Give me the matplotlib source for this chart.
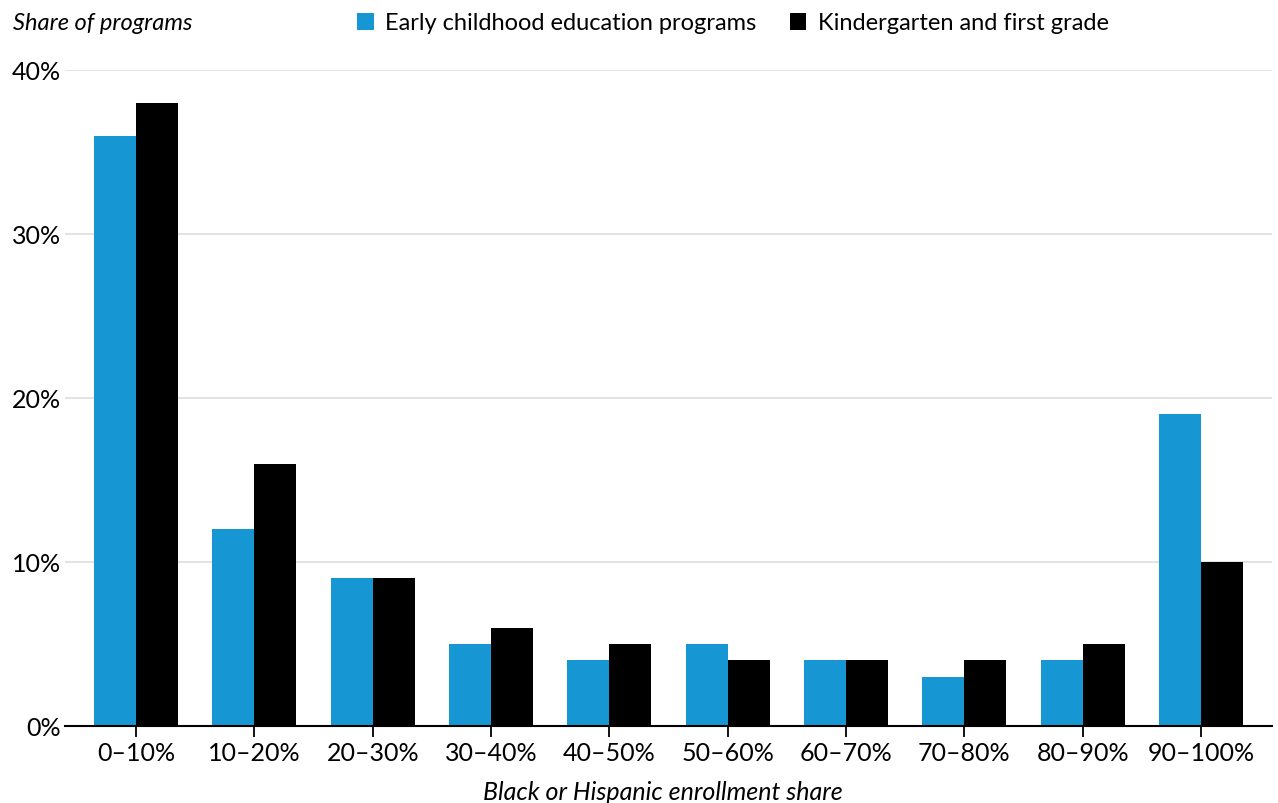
import numpy as np
import matplotlib
matplotlib.use('Agg')
import matplotlib.pyplot as plt
import matplotlib.transforms as mtransforms

# data
categories = ["0–10%", "10–20%", "20–30%", "30–40%", "40–50%",
              "50–60%", "60–70%", "70–80%", "80–90%", "90–100%"]
early_childhood = [36, 12, 9, 5, 4, 5, 4, 3, 4, 19]
kinder_first = [38, 16, 9, 6, 5, 4, 4, 4, 5, 10]
y_ticks = [0, 10, 20, 30, 40]

plt.rcParams['font.family'] = ['Lato', 'DejaVu Sans']

fig = plt.figure(figsize=(12.78, 8.04), dpi=100)
ax = fig.add_axes([0.0509, 0.0958, 0.9444, 0.8159])

x = np.arange(len(categories))
w = 0.355
ax.bar(x - w / 2, early_childhood, w, color="#1696d2", zorder=3,
       label="Early childhood education programs")
ax.bar(x + w / 2, kinder_first, w, color="#000000", zorder=3,
       label="Kindergarten and first grade")

ax.set_xlim(-0.6, 9.6)
ax.set_ylim(0, 40)
ax.set_xticks(x)
ax.set_xticklabels(categories, fontsize=18, color="#000000")
ax.set_yticks(y_ticks)
ax.set_yticklabels([f"{v}%" for v in y_ticks], fontsize=18)

# labels in the original sit a little right of their ticks
shift = mtransforms.ScaledTranslation(0.10, 0.01, fig.dpi_scale_trans)
for lbl in ax.get_xticklabels():
    lbl.set_transform(lbl.get_transform() + shift)

ax.grid(axis='y', color="#dedddd", linewidth=1.2, zorder=0)
for s in ['top', 'right', 'left']:
    ax.spines[s].set_visible(False)
ax.spines['bottom'].set_linewidth(1.5)
ax.spines['bottom'].set_zorder(4)
ax.tick_params(axis='x', length=8, width=1.3, pad=3)
ax.tick_params(axis='y', length=0, pad=3)

fig.text(13 / 1278, 1 - 24 / 804, "Share of programs", fontsize=17,
         style='italic', va='center', ha='left')
fig.text(663 / 1278, 1 - 793 / 804, "Black or Hispanic enrollment share",
         fontsize=18, style='italic', va='center', ha='center')

ax.legend(loc='center', bbox_to_anchor=(733 / 1278, 1 - 24 / 804),
          bbox_transform=fig.transFigure, ncol=2, frameon=False, fontsize=17,
          handlelength=0.7, handleheight=0.7, handletextpad=0.5,
          columnspacing=1.4)

fig.savefig("out.png", dpi=100)
